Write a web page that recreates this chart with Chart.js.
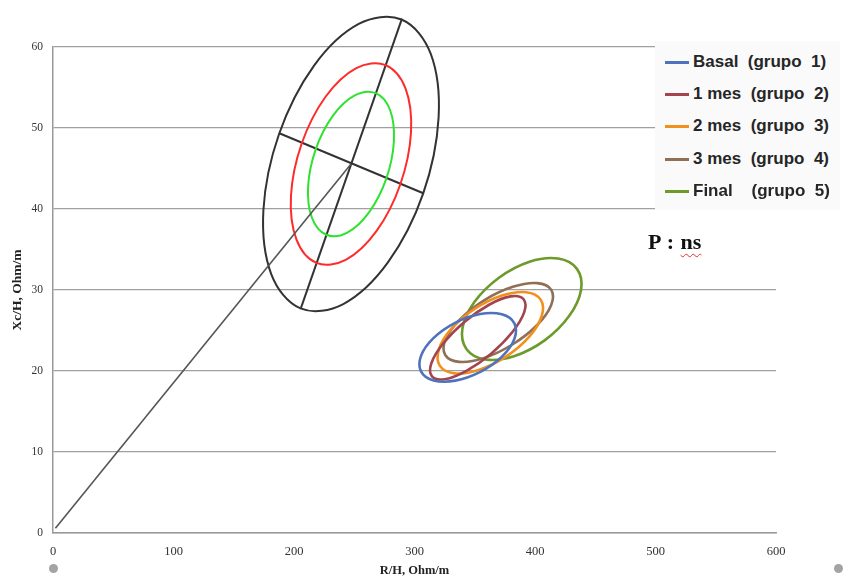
<!DOCTYPE html>
<html>
<head>
<meta charset="utf-8">
<script src="https://cdn.jsdelivr.net/npm/chart.js@4.4.0/dist/chart.umd.min.js"></script>
<style>
  html, body { margin: 0; padding: 0; background: #fff; }
  #wrap { position: relative; width: 848px; height: 582px; overflow: hidden; }
  #legend {
    position: absolute; left: 655px; top: 41px; width: 185px; height: 169px;
    background: #fafafa; box-sizing: border-box; padding-top: 5px;
  }
  #legend .item {
    position: relative; height: 32.2px;
    font: bold 17px "Liberation Sans", Arial, sans-serif; line-height: 32.2px;
    color: #262626; white-space: pre;
  }
  #legend .sw { position: absolute; left: 10px; top: 15px; width: 24px; height: 3px; }
  #legend .txt { position: absolute; left: 38px; top: 0; }
  #pval {
    position: absolute; left: 648px; top: 229px; word-spacing: 1px;
    font: bold 22px "Liberation Serif", "Times New Roman", serif; color: #111; white-space: pre;
  }
  #pval .ns { text-decoration: underline wavy #e03030; text-decoration-thickness: 1px; text-underline-offset: 4px; }
  .dot { position: absolute; width: 9px; height: 9px; border-radius: 50%; background: #a3a3a3; }
</style>
</head>
<body>
<div id="wrap">
  <canvas id="c" width="848" height="582"></canvas>
  <div id="legend"></div>
  <div id="pval">P : <span class="ns">ns</span></div>
  <div class="dot" style="left:49px; top:564px"></div>
  <div class="dot" style="left:834px; top:564px"></div>
</div>
<script>
// tolerance ellipses (R/H, Xc/H), 12 points each
const tol95R  = [289.2, 313.5, 320.0, 307.1, 278.1, 240.9, 205.4, 181.1, 174.6, 187.6, 216.5, 253.7];
const tol95Xc = [63.39, 59.15, 51.28, 41.86, 33.44, 28.27, 27.73, 31.97, 39.84, 49.26, 57.68, 62.85];
const tol75R  = [276.0, 292.6, 297.1, 288.2, 268.4, 242.9, 218.6, 202.0, 197.5, 206.4, 226.2, 251.7];
const tol75Xc = [57.77, 54.87, 49.48, 43.03, 37.26, 33.72, 33.35, 36.25, 41.64, 48.09, 53.86, 57.40];
const tol50R  = [267.8, 279.7, 282.9, 276.6, 262.4, 244.2, 226.8, 214.9, 211.7, 218.0, 232.2, 250.4];
const tol50Xc = [54.30, 52.22, 48.36, 43.75, 39.62, 37.09, 36.82, 38.90, 42.76, 47.37, 51.50, 54.03];

// axes of the tolerance ellipse and vector from the origin
const majorR = [205.8, 289.6], majorXc = [27.8, 63.5];
const minorR = [187.8, 307.3], minorXc = [49.35, 41.94];
const vectorR = [2, 247.3],    vectorXc = [0.6, 45.56];

// confidence ellipses per group
const basalR  = [382.9, 382.9, 372.6, 354.6, 333.8, 315.8, 305.4, 305.4, 315.7, 333.7, 354.5, 372.5];
const basalXc = [25.88, 23.97, 21.78, 19.89, 18.81, 18.84, 19.96, 21.87, 24.06, 25.95, 27.03, 27.00];
const mes1R   = [390.5, 391.0, 381.1, 363.6, 343.1, 325.1, 314.5, 314.0, 323.9, 341.4, 361.9, 379.9];
const mes1Xc  = [28.86, 27.24, 24.78, 22.14, 20.02, 18.99, 19.34, 20.96, 23.42, 26.06, 28.18, 29.21];
const mes2R   = [404.7, 405.6, 395.1, 375.9, 353.2, 333.2, 321.1, 320.2, 330.7, 349.9, 372.6, 392.6];
const mes2Xc  = [28.81, 26.79, 24.22, 21.78, 20.13, 19.71, 20.63, 22.65, 25.22, 27.66, 29.31, 29.73];
const mes3R   = [413.5, 413.3, 401.4, 380.9, 357.4, 337.1, 325.5, 325.7, 337.7, 358.1, 381.6, 401.9];
const mes3Xc  = [30.01, 28.10, 25.62, 23.24, 21.59, 21.13, 21.97, 23.88, 26.36, 28.75, 30.39, 30.85];
const finalR  = [434.8, 438.2, 428.3, 408.0, 382.5, 358.8, 343.2, 339.8, 349.7, 370.1, 395.5, 419.2];
const finalXc = [32.61, 30.01, 26.78, 23.78, 21.82, 21.42, 22.69, 25.29, 28.52, 31.52, 33.49, 33.88];

const groupLabels = ["Basal  (grupo  1)", "1 mes  (grupo  2)", "2 mes  (grupo  3)", "3 mes  (grupo  4)", "Final    (grupo  5)"];
const groupColors = ["#4f72be", "#a2454f", "#f2901e", "#8f6f55", "#6c9b2c"];
const groupR  = [basalR, mes1R, mes2R, mes3R, finalR];
const groupXc = [basalXc, mes1Xc, mes2Xc, mes3Xc, finalXc];

const xTicks = [0, 100, 200, 300, 400, 500, 600];
const yTicks = [0, 10, 20, 30, 40, 50, 60];

function pts(xs, ys) {
  return xs.map((x, i) => ({ x, y: ys[i] }));
}
// closed outline: one point of overlap on each side so every drawn piece
// gets proper neighbours for its curve; the two overhanging pieces are hidden
function loop(xs, ys) {
  const p = pts(xs, ys);
  return [p[p.length - 1], ...p, p[0], p[1]];
}

function outline(xs, ys, color, width) {
  const last = xs.length + 1;
  return {
    data: loop(xs, ys), showLine: true, borderColor: color, borderWidth: width,
    pointRadius: 0, tension: 0.36, fill: false, clip: false,
    segment: {
      borderColor: (ctx) => (ctx.p0DataIndex === 0 || ctx.p0DataIndex === last) ? "rgba(0,0,0,0)" : undefined,
    },
  };
}
function segment(xs, ys, color, width) {
  return {
    data: pts(xs, ys), showLine: true, borderColor: color, borderWidth: width,
    pointRadius: 0, tension: 0, fill: false, clip: false,
  };
}

const datasets = [
  segment(vectorR, vectorXc, "#555", 1.6),
  outline(tol95R, tol95Xc, "#333", 2),
  outline(tol75R, tol75Xc, "#ff2b2b", 2),
  outline(tol50R, tol50Xc, "#2fe22f", 2),
  segment(majorR, majorXc, "#333", 2),
  segment(minorR, minorXc, "#333", 2),
];
groupR.forEach((xs, i) => datasets.push(outline(xs, groupXc[i], groupColors[i], 2.6)));

const legend = document.getElementById("legend");
groupLabels.forEach((label, i) => {
  const row = document.createElement("div");
  row.className = "item";
  row.innerHTML = `<span class="sw" style="background:${groupColors[i]}"></span><span class="txt"></span>`;
  row.querySelector(".txt").textContent = label;
  legend.appendChild(row);
});

const serif = "'Liberation Serif', 'Times New Roman', serif";

new Chart(document.getElementById("c"), {
  type: "scatter",
  data: { datasets },
  options: {
    responsive: false,
    animation: false,
    events: [],
    elements: { line: { capBezierPoints: false } },
    layout: { padding: { top: 47, right: 72, left: 0, bottom: 0 } },
    plugins: { legend: { display: false }, tooltip: { enabled: false } },
    scales: {
      x: {
        type: "linear", min: xTicks[0], max: xTicks[xTicks.length - 1],
        afterBuildTicks: (s) => { s.ticks = xTicks.map(v => ({ value: v })); },
        afterFit: (s) => { s.height = 49; },
        grid: { display: false, drawTicks: false },
        border: { display: true, color: "#999", width: 1.5 },
        ticks: { color: "#333", font: { family: serif, size: 12.5 }, padding: 11, maxRotation: 0 },
        title: { display: true, text: "R/H, Ohm/m", color: "#222", font: { family: serif, size: 12.5, weight: "bold" }, padding: { top: 0, bottom: 4 } },
      },
      y: {
        type: "linear", min: yTicks[0], max: yTicks[yTicks.length - 1],
        afterBuildTicks: (s) => { s.ticks = yTicks.map(v => ({ value: v })); },
        afterFit: (s) => { s.width = 53; },
        grid: { color: "#a0a0a0", lineWidth: 1.2, drawTicks: false },
        border: { display: true, color: "#999", width: 1.5 },
        ticks: { color: "#333", font: { family: serif, size: 11.5 }, padding: 10 },
        title: { display: true, text: "Xc/H, Ohm/m", color: "#222", font: { family: serif, size: 13.5, weight: "bold" }, padding: { top: 9, bottom: 0 } },
      },
    },
  },
});
</script>
</body>
</html>
